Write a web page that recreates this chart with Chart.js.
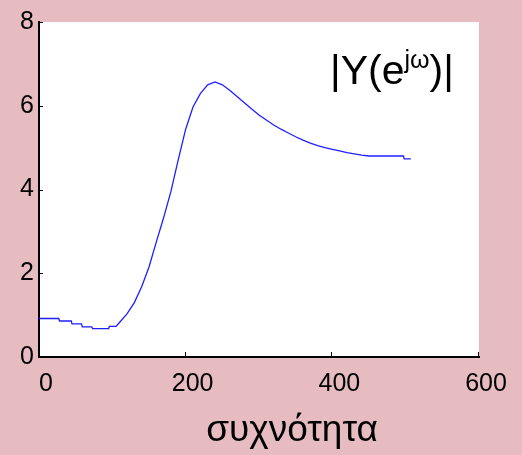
<!DOCTYPE html>
<html>
<head>
  <meta charset="utf-8">
  <title>|Y(e^jw)|</title>
  <script src="https://cdn.jsdelivr.net/npm/chart.js@4/dist/chart.umd.min.js"></script>
  <style>
    html, body {
      margin: 0;
      padding: 0;
      background: #e6bcc0;
    }
    #wrap {
      position: relative;
      width: 522px;
      height: 455px;
    }
  </style>
</head>
<body>
  <div id="wrap">
    <canvas id="canvas" width="522" height="455"></canvas>
  </div>
  <script>
    // frequency samples (x) and magnitude (y)
    const freq = [0, 27, 28, 44, 45, 58, 59, 72, 73, 95, 96, 105, 110, 120, 130, 140, 150, 160, 170, 180,
      190, 200, 210, 220, 230, 240, 250, 260, 270, 280, 290, 300, 310, 320, 330, 340, 350, 360, 370, 380,
      390, 400, 410, 420, 430, 440, 450, 460, 480, 497, 498, 507];
    const mag = [0.92, 0.92, 0.86, 0.86, 0.79, 0.79, 0.72, 0.72, 0.68, 0.68, 0.73, 0.73, 0.83, 1.03, 1.3, 1.68, 2.15, 2.75, 3.33, 3.96,
      4.72, 5.44, 5.97, 6.29, 6.5, 6.57, 6.5, 6.37, 6.22, 6.07, 5.92, 5.78, 5.66, 5.54, 5.44, 5.35, 5.26, 5.18, 5.11, 5.05,
      5.0, 4.96, 4.92, 4.88, 4.85, 4.82, 4.8, 4.8, 4.8, 4.8, 4.73, 4.73];
    const xTicks = [0, 200, 400, 600];
    const yTicks = [0, 2, 4, 6, 8];
    const xLabel = 'συχνότητα';

    const points = freq.map(function (f, i) {
      return { x: f, y: mag[i] };
    });

    // white plot box, inward tick marks and the text labels
    const decor = {
      id: 'decor',
      beforeDraw: function (chart) {
        const a = chart.chartArea;
        const c = chart.ctx;
        c.save();
        c.fillStyle = '#ffffff';
        c.fillRect(a.left, a.top, a.right - a.left, a.bottom - a.top);
        c.restore();
      },
      afterDraw: function (chart) {
        const c = chart.ctx;
        const a = chart.chartArea;
        const sx = chart.scales.x;
        const sy = chart.scales.y;
        c.save();
        c.strokeStyle = '#000';
        c.lineWidth = 1;
        xTicks.slice(1).forEach(function (v) {
          const px = Math.round(sx.getPixelForValue(v)) - 0.5;
          c.beginPath();
          c.moveTo(px, a.bottom);
          c.lineTo(px, a.bottom - 5);
          c.stroke();
        });
        yTicks.slice(1).forEach(function (v) {
          const py = Math.round(sy.getPixelForValue(v)) + 0.5;
          c.beginPath();
          c.moveTo(a.left, py);
          c.lineTo(a.left + 4, py);
          c.stroke();
        });

        // |Y(e^jω)| with a raised exponent
        c.fillStyle = '#000';
        c.textBaseline = 'alphabetic';
        c.textAlign = 'left';
        let x = 330;
        const base = 84;
        c.font = '41px "Liberation Sans", Arial, sans-serif';
        c.fillText('|Y(e', x, base);
        x += c.measureText('|Y(e').width;
        c.font = '25px "Liberation Sans", Arial, sans-serif';
        c.fillText('jω', x, base - 16);
        x += c.measureText('jω').width;
        c.font = '41px "Liberation Sans", Arial, sans-serif';
        c.fillText(')|', x, base);

        // x axis title
        c.font = '37px "Liberation Sans", Arial, sans-serif';
        c.textAlign = 'center';
        c.fillText(xLabel, 292, 441);
        c.restore();
      }
    };

    const tickFont = { family: '"Liberation Sans", Arial, sans-serif', size: 25 };

    new Chart(document.getElementById('canvas'), {
      type: 'line',
      data: {
        datasets: [{
          data: points,
          borderColor: '#1f1fff',
          borderWidth: 1.3,
          pointRadius: 0,
          tension: 0,
          fill: false
        }]
      },
      options: {
        responsive: false,
        animation: false,
        events: [],
        layout: { padding: { left: 0, right: 43, top: 22, bottom: 0 } },
        plugins: {
          legend: { display: false },
          tooltip: { enabled: false }
        },
        scales: {
          x: {
            type: 'linear',
            min: 0,
            max: 600,
            afterBuildTicks: function (scale) {
              scale.ticks = xTicks.map(function (v) { return { value: v }; });
            },
            afterFit: function (scale) { scale.height = 98; },
            grid: { display: false, drawTicks: false },
            border: { display: true, color: '#000', width: 2 },
            ticks: { color: '#000', font: tickFont, padding: 12, labelOffset: 7, maxRotation: 0 }
          },
          y: {
            min: 0,
            max: 8,
            afterBuildTicks: function (scale) {
              scale.ticks = yTicks.map(function (v) { return { value: v }; });
            },
            afterFit: function (scale) { scale.width = 39; },
            grid: { display: false, drawTicks: false },
            border: { display: true, color: '#000', width: 2 },
            ticks: { color: '#000', font: tickFont, padding: 5 }
          }
        }
      },
      plugins: [decor]
    });
  </script>
</body>
</html>
